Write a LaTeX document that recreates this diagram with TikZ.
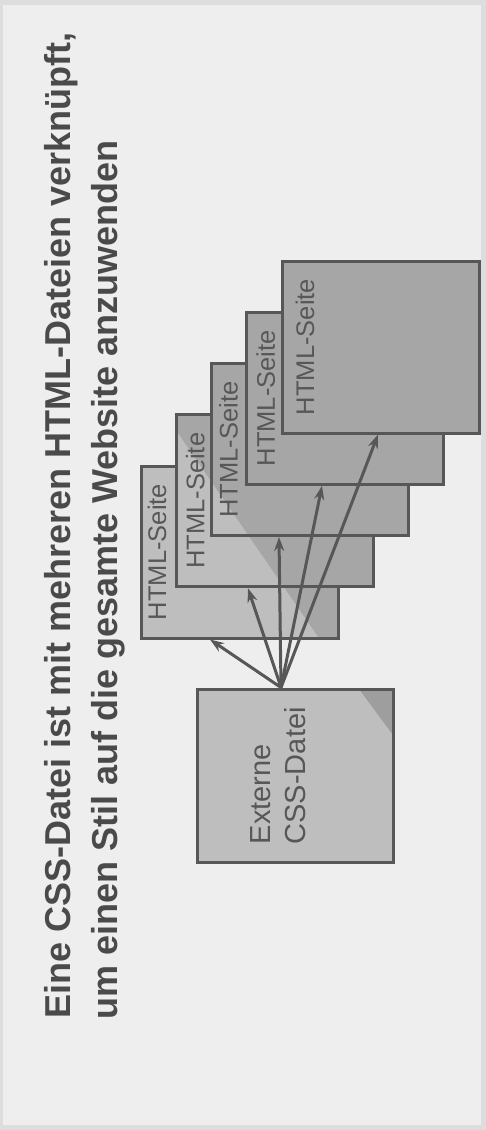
\documentclass[tikz,border=0pt]{standalone}
\usepackage{fontspec}
\setmainfont{Liberation Sans}
\usepackage{tikz}
\usetikzlibrary{arrows.meta}
\usetikzlibrary{positioning}
\definecolor{paper}{HTML}{EEEEEE}
\definecolor{paperedge}{HTML}{DDDDDD}
\definecolor{ink}{HTML}{575757}
\definecolor{titleink}{HTML}{4A4A4A}
\definecolor{midgray}{HTML}{A6A6A6}
\definecolor{litgray}{HTML}{BEBEBE}
\definecolor{cornergray}{HTML}{9E9E9E}
\tikzstyle{page} =
[
	draw=ink,rectangle,line width=3pt,inner sep=0pt,
	minimum width=197pt, minimum height=172pt,
	fill=midgray,
	path picture={\fill[litgray] (litA) -- (litB) -- (litC) -- cycle;}
]
\tikzstyle{cssbox} =
[
	draw=ink,rectangle,line width=3pt,inner sep=0pt,
	minimum width=196pt, minimum height=173pt,
	fill=litgray,
	path picture={\fill[cornergray] (path picture bounding box.north east)
		-- ++(-34,0) -- ++(34,46) -- cycle;}
]
\tikzstyle{pagetext} =
[
	rotate=90,anchor=north,inner sep=0pt,text=ink,
	font=\fontsize{25.5}{30}\selectfont
]
\tikzstyle{csstext} =
[
	rotate=90,anchor=north west,inner sep=0pt,text=ink,align=left,
	font=\fontsize{29}{35}\selectfont
]
\tikzstyle{titletext} =
[
	rotate=90,anchor=base west,inner sep=0pt,text=titleink,
	font=\fontsize{36}{43}\bfseries\selectfont
]
\tikzstyle{link} =
[
	draw=ink,line width=3pt,->
]
\begin{document}
\begin{tikzpicture}[x=1pt,y=-1pt,>={Stealth[length=14pt,width=10pt]}]
\useasboundingbox (0,0) rectangle (486,1130);
\fill[paperedge] (0,0) rectangle (486,1130);
\fill[paper] (3,5) rectangle (481,1125);

\node[titletext] (T1) at (70,1019) {Eine CSS-Datei ist mit mehreren HTML-Dateien verknüpft,};
\node[titletext] (T2) at (117,1020) {um einen Stil auf die gesamte Website anzuwenden};

% light corner over the stack
\coordinate (litA) at (100,320);
\coordinate (litB) at (400,756);
\coordinate (litC) at (100,756);

\node[page] (P1) at (239.5,552) {};
\node[pagetext] (L1) at ([xshift=8pt]P1.west) {HTML-Seite};
\node[page] (P2) at (274.75,500.75) {};
\node[pagetext] (L2) at ([xshift=11pt]P2.west) {HTML-Seite};
\node[page] (P3) at (310,449.5) {};
\node[pagetext] (L3) at ([xshift=9pt]P3.west) {HTML-Seite};
\node[page] (P4) at (345.25,398.25) {};
\node[pagetext] (L4) at ([xshift=11pt]P4.west) {HTML-Seite};
\node[page] (P5) at (380.5,347) {};
\node[pagetext] (L5) at ([xshift=15pt]P5.west) {HTML-Seite};

\node[cssbox] (C) at (295,775.5) {};
\node[csstext] (CT) at ([xshift=55pt,yshift=19pt]C.south west) {Externe\\CSS-Datei};
%
\coordinate (src) at ([xshift=-14pt]C.north);
\path
	(src) edge[link] ([xshift=-29.5pt]P1.south)
	(src) edge[link] ([xshift=-26.75pt]P2.south)
	(src) edge[link] ([xshift=-31pt]P3.south)
	(src) edge[link] ([xshift=-23.25pt]P4.south)
	(src) edge[link] ([xshift=-2.5pt]P5.south);

\end{tikzpicture}
\end{document}
